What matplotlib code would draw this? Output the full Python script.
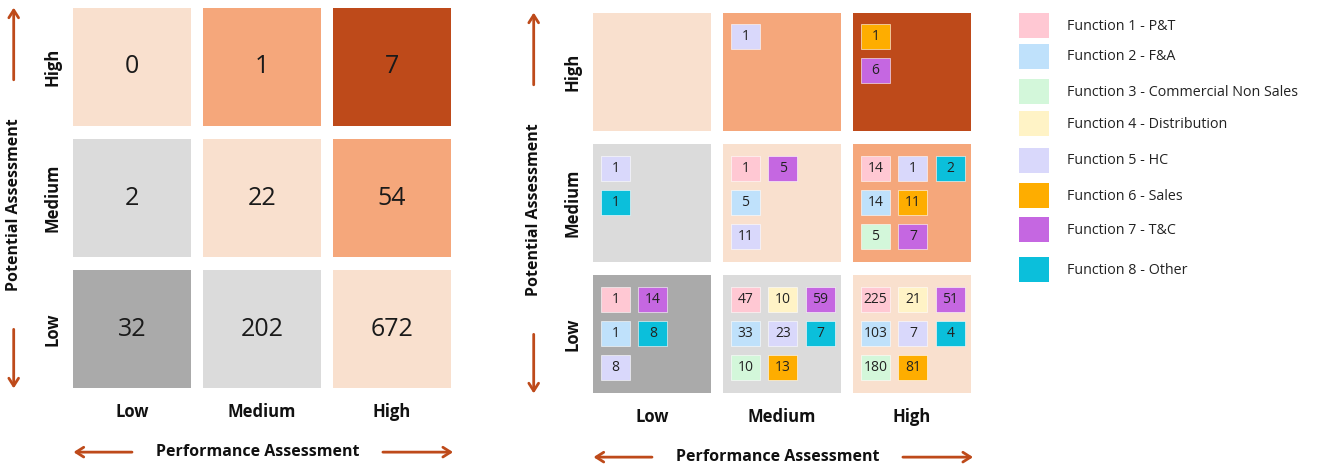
import matplotlib
matplotlib.use("Agg")
import matplotlib.pyplot as plt
from matplotlib.patches import Rectangle

plt.rcParams["font.family"] = ["Open Sans", "DejaVu Sans"]

# --- data -------------------------------------------------------------
perf_levels = ["Low", "Medium", "High"]        # x axis, left to right
potential_levels = ["Low", "Medium", "High"]   # y axis, bottom to top

function_names = [
    "Function 1 - P&T",
    "Function 2 - F&A",
    "Function 3 - Commercial Non Sales",
    "Function 4 - Distribution",
    "Function 5 - HC",
    "Function 6 - Sales",
    "Function 7 - T&C",
    "Function 8 - Other",
]
function_colors = ["#FFC8D3", "#BFE1FB", "#D3F7DA", "#FFF3C6",
                   "#D9D8FB", "#FEAD00", "#C567E1", "#0BBFDB"]

# headcount per function inside each box, as rows of (function no., count)
low_low = [[(1, 1), (7, 14)], [(2, 1), (8, 8)], [(5, 8)]]
low_med = [[(1, 47), (4, 10), (7, 59)], [(2, 33), (5, 23), (8, 7)], [(3, 10), (6, 13)]]
low_high = [[(1, 225), (4, 21), (7, 51)], [(2, 103), (5, 7), (8, 4)], [(3, 180), (6, 81)]]
med_low = [[(5, 1)], [(8, 1)]]
med_med = [[(1, 1), (7, 5)], [(2, 5)], [(5, 11)]]
med_high = [[(1, 14), (5, 1), (8, 2)], [(2, 14), (6, 11)], [(3, 5), (7, 7)]]
high_low = []
high_med = [[(5, 1)]]
high_high = [[(6, 1)], [(7, 6)]]

breakdown = [
    [low_low, low_med, low_high],
    [med_low, med_med, med_high],
    [high_low, high_med, high_high],
]
totals = [[sum(n for row in cell for _, n in row) for cell in level] for level in breakdown]

# box shading, same layout as breakdown
PEACH, ORANGE, RUST = "#F9E0CE", "#F5A77B", "#BE4A1A"
LGRAY, DGRAY = "#DBDBDB", "#AAAAAA"
box_colors = [
    [DGRAY, LGRAY, PEACH],
    [LGRAY, PEACH, ORANGE],
    [PEACH, ORANGE, RUST],
]

# --- layout -----------------------------------------------------------
W, H = 1317, 469
fig = plt.figure(figsize=(W / 100, H / 100), dpi=100)


def px_axes(x0, y0, x1, y1):
    ax = fig.add_axes([x0 / W, 1 - y1 / H, (x1 - x0) / W, (y1 - y0) / H])
    ax.set_axis_off()
    return ax


GX, GY = 0.046, 0.05   # half gap between boxes


def arrow(ax, start, end):
    ax.annotate("", xy=end, xytext=start, annotation_clip=False,
                arrowprops=dict(arrowstyle="->,head_length=0.55,head_width=0.35",
                                color=RUST, lw=2, shrinkA=0, shrinkB=0))


def draw_grid(ax):
    ax.set_xlim(0, 3)
    ax.set_ylim(0, 3)
    for i in range(3):
        for j in range(3):
            ax.add_patch(Rectangle((j + GX, i + GY), 1 - 2 * GX, 1 - 2 * GY,
                                   facecolor=box_colors[i][j], edgecolor="none"))
    for j, lab in enumerate(perf_levels):
        ax.text(j + 0.5, -0.13, lab, ha="center", va="center",
                fontsize=12, fontweight="bold", color="#111111")
    for i, lab in enumerate(potential_levels):
        ax.text(-0.115, i + 0.5, lab, ha="center", va="center", rotation=90,
                fontsize=12, fontweight="bold", color="#111111")
    ax.text(1.47, -0.435, "Performance Assessment", ha="center", va="center",
            fontsize=11.5, fontweight="bold", color="#111111")
    ax.text(-0.41, 1.45, "Potential Assessment", ha="center", va="center",
            rotation=90, fontsize=11.5, fontweight="bold", color="#111111")
    arrow(ax, (0.5, -0.435), (0.05, -0.435))
    arrow(ax, (2.43, -0.435), (2.97, -0.435))
    arrow(ax, (-0.41, 2.40), (-0.41, 2.95))
    arrow(ax, (-0.41, 0.50), (-0.41, 0.05))


# left: totals per box
ax_left = px_axes(67, 1, 457, 395)
draw_grid(ax_left)
for i in range(3):
    for j in range(3):
        ax_left.text(j + 0.5, i + 0.5, str(totals[i][j]), ha="center", va="center",
                     fontsize=18, color="#1A1A1A")

# right: per-function tiles inside each box
ax_right = px_axes(587, 6, 977, 400)
draw_grid(ax_right)
TW, TH = 0.223, 0.19        # tile size
PX, PY = 0.288, 0.259       # tile pitch
OX, OY = 0.062, 0.09        # offset from the box corner
for i in range(3):
    for j in range(3):
        top = i + 1 - GY - OY
        for r, row in enumerate(breakdown[i][j]):
            for c, (f, n) in enumerate(row):
                x = j + GX + OX + c * PX
                y = top - r * PY - TH
                ax_right.add_patch(Rectangle((x, y), TW, TH,
                                             facecolor=function_colors[f - 1],
                                             edgecolor="white", lw=0.4))
                ax_right.text(x + TW / 2, y + TH / 2, str(n), ha="center",
                              va="center", fontsize=10, color="#222222")

# legend
ax_leg = px_axes(1000, 0, 1317, 469)
ax_leg.set_xlim(1000, 1317)
ax_leg.set_ylim(469, 0)
legend_rows = [26, 57, 92, 124, 161, 196, 230, 270]
for k, yc in enumerate(legend_rows):
    ax_leg.add_patch(Rectangle((1019, yc - 12.5), 30, 25,
                               facecolor=function_colors[k], edgecolor="none"))
    ax_leg.text(1067, yc, function_names[k], ha="left", va="center",
                fontsize=10.3, color="#222222")

fig.savefig("out.png", dpi=100, facecolor="white")
